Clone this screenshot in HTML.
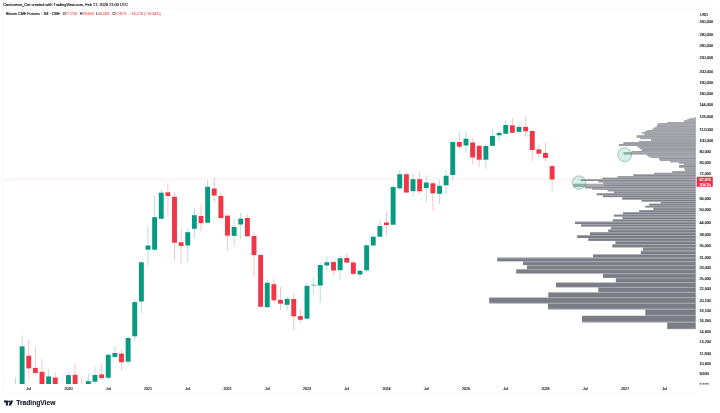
<!DOCTYPE html><html><head><meta charset="utf-8"><style>html,body{margin:0;padding:0;background:#fff;width:720px;height:413px;overflow:hidden}</style></head><body><svg width="720" height="413" viewBox="0 0 720 413" style="display:block;font-family:'Liberation Sans',sans-serif">
<rect width="720" height="413" fill="#ffffff"/>
<defs><clipPath id="cp"><rect x="0" y="8" width="696" height="376"/></clipPath></defs>
<line x1="4" x2="696" y1="179.23" y2="179.23" stroke="#f23645" stroke-opacity="0.28" stroke-width="0.42"/>
<g clip-path="url(#cp)">
<line x1="15.50" x2="15.50" y1="378.00" y2="396.00" stroke="#089981" stroke-width="0.42" stroke-opacity="0.72"/>
<rect x="13.05" y="395.00" width="4.9" height="1.00" fill="#089981"/>
<line x1="22.12" x2="22.12" y1="335.30" y2="395.00" stroke="#089981" stroke-width="0.42" stroke-opacity="0.72"/>
<rect x="19.68" y="346.40" width="4.9" height="48.60" fill="#089981"/>
<line x1="28.75" x2="28.75" y1="340.00" y2="378.30" stroke="#f23645" stroke-width="0.42" stroke-opacity="0.72"/>
<rect x="26.30" y="355.70" width="4.9" height="12.70" fill="#f23645"/>
<line x1="35.38" x2="35.38" y1="347.00" y2="374.80" stroke="#f23645" stroke-width="0.42" stroke-opacity="0.72"/>
<rect x="32.92" y="367.90" width="4.9" height="5.00" fill="#f23645"/>
<line x1="42.00" x2="42.00" y1="358.70" y2="395.00" stroke="#f23645" stroke-width="0.42" stroke-opacity="0.72"/>
<rect x="39.55" y="371.80" width="4.9" height="23.20" fill="#f23645"/>
<line x1="48.62" x2="48.62" y1="369.20" y2="395.00" stroke="#089981" stroke-width="0.42" stroke-opacity="0.72"/>
<rect x="46.17" y="376.40" width="4.9" height="18.60" fill="#089981"/>
<line x1="55.25" x2="55.25" y1="372.00" y2="395.00" stroke="#f23645" stroke-width="0.42" stroke-opacity="0.72"/>
<rect x="52.80" y="377.50" width="4.9" height="17.50" fill="#f23645"/>
<line x1="68.50" x2="68.50" y1="372.20" y2="395.00" stroke="#089981" stroke-width="0.42" stroke-opacity="0.72"/>
<rect x="66.05" y="375.10" width="4.9" height="19.90" fill="#089981"/>
<line x1="75.12" x2="75.12" y1="363.10" y2="395.00" stroke="#f23645" stroke-width="0.42" stroke-opacity="0.72"/>
<rect x="72.67" y="374.80" width="4.9" height="20.20" fill="#f23645"/>
<line x1="81.75" x2="81.75" y1="377.20" y2="396.00" stroke="#f23645" stroke-width="0.42" stroke-opacity="0.72"/>
<rect x="79.30" y="395.00" width="4.9" height="1.00" fill="#f23645"/>
<line x1="88.38" x2="88.38" y1="373.90" y2="395.00" stroke="#089981" stroke-width="0.42" stroke-opacity="0.72"/>
<rect x="85.92" y="381.10" width="4.9" height="13.90" fill="#089981"/>
<line x1="95.00" x2="95.00" y1="367.20" y2="395.00" stroke="#089981" stroke-width="0.42" stroke-opacity="0.72"/>
<rect x="92.55" y="375.00" width="4.9" height="6.70" fill="#089981"/>
<line x1="101.62" x2="101.62" y1="363.90" y2="380.20" stroke="#f23645" stroke-width="0.42" stroke-opacity="0.72"/>
<rect x="99.17" y="374.40" width="4.9" height="3.60" fill="#f23645"/>
<line x1="108.25" x2="108.25" y1="353.60" y2="379.40" stroke="#089981" stroke-width="0.42" stroke-opacity="0.72"/>
<rect x="105.80" y="354.80" width="4.9" height="23.00" fill="#089981"/>
<line x1="114.88" x2="114.88" y1="346.10" y2="357.80" stroke="#089981" stroke-width="0.42" stroke-opacity="0.72"/>
<rect x="112.42" y="353.00" width="4.9" height="3.90" fill="#089981"/>
<line x1="121.50" x2="121.50" y1="350.00" y2="370.20" stroke="#f23645" stroke-width="0.42" stroke-opacity="0.72"/>
<rect x="119.05" y="353.60" width="4.9" height="8.60" fill="#f23645"/>
<line x1="128.12" x2="128.12" y1="336.20" y2="364.70" stroke="#089981" stroke-width="0.42" stroke-opacity="0.72"/>
<rect x="125.67" y="338.00" width="4.9" height="23.70" fill="#089981"/>
<line x1="134.75" x2="134.75" y1="299.90" y2="341.00" stroke="#089981" stroke-width="0.42" stroke-opacity="0.72"/>
<rect x="132.30" y="302.10" width="4.9" height="34.20" fill="#089981"/>
<line x1="141.38" x2="141.38" y1="261.00" y2="313.20" stroke="#089981" stroke-width="0.42" stroke-opacity="0.72"/>
<rect x="138.93" y="262.30" width="4.9" height="39.20" fill="#089981"/>
<line x1="148.00" x2="148.00" y1="225.20" y2="265.20" stroke="#089981" stroke-width="0.42" stroke-opacity="0.72"/>
<rect x="145.55" y="245.50" width="4.9" height="4.20" fill="#089981"/>
<line x1="154.62" x2="154.62" y1="195.70" y2="251.30" stroke="#089981" stroke-width="0.42" stroke-opacity="0.72"/>
<rect x="152.18" y="217.20" width="4.9" height="32.50" fill="#089981"/>
<line x1="161.25" x2="161.25" y1="189.70" y2="219.20" stroke="#089981" stroke-width="0.42" stroke-opacity="0.72"/>
<rect x="158.80" y="192.70" width="4.9" height="26.10" fill="#089981"/>
<line x1="167.88" x2="167.88" y1="183.00" y2="214.70" stroke="#f23645" stroke-width="0.42" stroke-opacity="0.72"/>
<rect x="165.43" y="192.30" width="4.9" height="3.70" fill="#f23645"/>
<line x1="174.50" x2="174.50" y1="192.20" y2="259.70" stroke="#f23645" stroke-width="0.42" stroke-opacity="0.72"/>
<rect x="172.05" y="196.80" width="4.9" height="45.90" fill="#f23645"/>
<line x1="181.12" x2="181.12" y1="228.50" y2="263.50" stroke="#f23645" stroke-width="0.42" stroke-opacity="0.72"/>
<rect x="178.68" y="242.30" width="4.9" height="3.70" fill="#f23645"/>
<line x1="187.75" x2="187.75" y1="227.70" y2="262.70" stroke="#089981" stroke-width="0.42" stroke-opacity="0.72"/>
<rect x="185.30" y="232.20" width="4.9" height="13.30" fill="#089981"/>
<line x1="194.38" x2="194.38" y1="208.20" y2="238.30" stroke="#089981" stroke-width="0.42" stroke-opacity="0.72"/>
<rect x="191.93" y="215.20" width="4.9" height="13.60" fill="#089981"/>
<line x1="201.00" x2="201.00" y1="204.30" y2="231.30" stroke="#f23645" stroke-width="0.42" stroke-opacity="0.72"/>
<rect x="198.55" y="216.00" width="4.9" height="7.20" fill="#f23645"/>
<line x1="207.62" x2="207.62" y1="180.20" y2="223.30" stroke="#089981" stroke-width="0.42" stroke-opacity="0.72"/>
<rect x="205.18" y="186.80" width="4.9" height="35.90" fill="#089981"/>
<line x1="214.25" x2="214.25" y1="177.70" y2="202.30" stroke="#f23645" stroke-width="0.42" stroke-opacity="0.72"/>
<rect x="211.80" y="188.50" width="4.9" height="7.00" fill="#f23645"/>
<line x1="220.88" x2="220.88" y1="192.70" y2="219.00" stroke="#f23645" stroke-width="0.42" stroke-opacity="0.72"/>
<rect x="218.43" y="196.00" width="4.9" height="22.00" fill="#f23645"/>
<line x1="227.50" x2="227.50" y1="214.30" y2="251.00" stroke="#f23645" stroke-width="0.42" stroke-opacity="0.72"/>
<rect x="225.05" y="215.70" width="4.9" height="19.90" fill="#f23645"/>
<line x1="234.12" x2="234.12" y1="218.50" y2="246.80" stroke="#089981" stroke-width="0.42" stroke-opacity="0.72"/>
<rect x="231.68" y="227.00" width="4.9" height="8.90" fill="#089981"/>
<line x1="240.75" x2="240.75" y1="212.70" y2="239.00" stroke="#089981" stroke-width="0.42" stroke-opacity="0.72"/>
<rect x="238.30" y="218.70" width="4.9" height="5.80" fill="#089981"/>
<line x1="247.38" x2="247.38" y1="214.30" y2="236.60" stroke="#f23645" stroke-width="0.42" stroke-opacity="0.72"/>
<rect x="244.93" y="218.00" width="4.9" height="18.30" fill="#f23645"/>
<line x1="254.00" x2="254.00" y1="232.30" y2="276.70" stroke="#f23645" stroke-width="0.42" stroke-opacity="0.72"/>
<rect x="251.55" y="236.00" width="4.9" height="19.10" fill="#f23645"/>
<line x1="260.62" x2="260.62" y1="254.50" y2="307.20" stroke="#f23645" stroke-width="0.42" stroke-opacity="0.72"/>
<rect x="258.18" y="254.90" width="4.9" height="51.90" fill="#f23645"/>
<line x1="267.25" x2="267.25" y1="280.00" y2="307.40" stroke="#089981" stroke-width="0.42" stroke-opacity="0.72"/>
<rect x="264.80" y="282.80" width="4.9" height="24.40" fill="#089981"/>
<line x1="273.88" x2="273.88" y1="277.50" y2="302.90" stroke="#f23645" stroke-width="0.42" stroke-opacity="0.72"/>
<rect x="271.43" y="284.20" width="4.9" height="16.10" fill="#f23645"/>
<line x1="280.50" x2="280.50" y1="287.00" y2="310.30" stroke="#f23645" stroke-width="0.42" stroke-opacity="0.72"/>
<rect x="278.05" y="299.80" width="4.9" height="3.90" fill="#f23645"/>
<line x1="287.12" x2="287.12" y1="296.40" y2="311.30" stroke="#089981" stroke-width="0.42" stroke-opacity="0.72"/>
<rect x="284.68" y="298.90" width="4.9" height="5.90" fill="#089981"/>
<line x1="293.75" x2="293.75" y1="293.80" y2="329.80" stroke="#f23645" stroke-width="0.42" stroke-opacity="0.72"/>
<rect x="291.30" y="299.00" width="4.9" height="17.30" fill="#f23645"/>
<line x1="300.38" x2="300.38" y1="308.90" y2="322.80" stroke="#f23645" stroke-width="0.42" stroke-opacity="0.72"/>
<rect x="297.93" y="316.10" width="4.9" height="3.70" fill="#f23645"/>
<line x1="307.00" x2="307.00" y1="282.50" y2="319.00" stroke="#089981" stroke-width="0.42" stroke-opacity="0.72"/>
<rect x="304.55" y="285.80" width="4.9" height="32.90" fill="#089981"/>
<line x1="313.62" x2="313.62" y1="277.50" y2="294.00" stroke="#089981" stroke-width="0.42" stroke-opacity="0.72"/>
<rect x="311.18" y="284.80" width="4.9" height="0.60" fill="#089981"/>
<line x1="320.25" x2="320.25" y1="262.50" y2="302.60" stroke="#089981" stroke-width="0.42" stroke-opacity="0.72"/>
<rect x="317.80" y="265.00" width="4.9" height="20.50" fill="#089981"/>
<line x1="326.88" x2="326.88" y1="256.30" y2="270.00" stroke="#089981" stroke-width="0.42" stroke-opacity="0.72"/>
<rect x="324.43" y="262.20" width="4.9" height="3.30" fill="#089981"/>
<line x1="333.50" x2="333.50" y1="261.00" y2="274.70" stroke="#f23645" stroke-width="0.42" stroke-opacity="0.72"/>
<rect x="331.05" y="262.00" width="4.9" height="8.50" fill="#f23645"/>
<line x1="340.12" x2="340.12" y1="255.30" y2="279.50" stroke="#089981" stroke-width="0.42" stroke-opacity="0.72"/>
<rect x="337.68" y="258.20" width="4.9" height="12.00" fill="#089981"/>
<line x1="346.75" x2="346.75" y1="253.70" y2="263.00" stroke="#f23645" stroke-width="0.42" stroke-opacity="0.72"/>
<rect x="344.30" y="257.90" width="4.9" height="4.70" fill="#f23645"/>
<line x1="353.38" x2="353.38" y1="260.20" y2="275.20" stroke="#f23645" stroke-width="0.42" stroke-opacity="0.72"/>
<rect x="350.93" y="262.50" width="4.9" height="11.30" fill="#f23645"/>
<line x1="360.00" x2="360.00" y1="269.20" y2="278.30" stroke="#089981" stroke-width="0.42" stroke-opacity="0.72"/>
<rect x="357.55" y="270.80" width="4.9" height="3.70" fill="#089981"/>
<line x1="366.62" x2="366.62" y1="244.20" y2="272.50" stroke="#089981" stroke-width="0.42" stroke-opacity="0.72"/>
<rect x="364.18" y="245.30" width="4.9" height="25.00" fill="#089981"/>
<line x1="373.25" x2="373.25" y1="233.70" y2="246.00" stroke="#089981" stroke-width="0.42" stroke-opacity="0.72"/>
<rect x="370.80" y="236.70" width="4.9" height="8.80" fill="#089981"/>
<line x1="379.88" x2="379.88" y1="220.00" y2="237.00" stroke="#089981" stroke-width="0.42" stroke-opacity="0.72"/>
<rect x="377.43" y="226.00" width="4.9" height="10.70" fill="#089981"/>
<line x1="386.50" x2="386.50" y1="210.80" y2="235.30" stroke="#f23645" stroke-width="0.42" stroke-opacity="0.72"/>
<rect x="384.05" y="222.50" width="4.9" height="2.50" fill="#f23645"/>
<line x1="393.12" x2="393.12" y1="184.20" y2="225.50" stroke="#089981" stroke-width="0.42" stroke-opacity="0.72"/>
<rect x="390.68" y="187.00" width="4.9" height="37.70" fill="#089981"/>
<line x1="399.75" x2="399.75" y1="170.00" y2="190.30" stroke="#089981" stroke-width="0.42" stroke-opacity="0.72"/>
<rect x="397.30" y="174.20" width="4.9" height="14.10" fill="#089981"/>
<line x1="406.38" x2="406.38" y1="172.00" y2="193.00" stroke="#f23645" stroke-width="0.42" stroke-opacity="0.72"/>
<rect x="403.93" y="174.20" width="4.9" height="18.30" fill="#f23645"/>
<line x1="413.00" x2="413.00" y1="173.30" y2="196.70" stroke="#089981" stroke-width="0.42" stroke-opacity="0.72"/>
<rect x="410.55" y="179.20" width="4.9" height="12.00" fill="#089981"/>
<line x1="419.62" x2="419.62" y1="172.00" y2="194.20" stroke="#f23645" stroke-width="0.42" stroke-opacity="0.72"/>
<rect x="417.18" y="179.20" width="4.9" height="12.00" fill="#f23645"/>
<line x1="426.25" x2="426.25" y1="175.30" y2="202.50" stroke="#089981" stroke-width="0.42" stroke-opacity="0.72"/>
<rect x="423.80" y="182.50" width="4.9" height="5.50" fill="#089981"/>
<line x1="432.88" x2="432.88" y1="182.50" y2="210.80" stroke="#f23645" stroke-width="0.42" stroke-opacity="0.72"/>
<rect x="430.43" y="183.30" width="4.9" height="10.00" fill="#f23645"/>
<line x1="439.50" x2="439.50" y1="180.00" y2="204.20" stroke="#089981" stroke-width="0.42" stroke-opacity="0.72"/>
<rect x="437.05" y="185.80" width="4.9" height="8.00" fill="#089981"/>
<line x1="446.12" x2="446.12" y1="170.00" y2="194.20" stroke="#089981" stroke-width="0.42" stroke-opacity="0.72"/>
<rect x="443.68" y="175.80" width="4.9" height="9.50" fill="#089981"/>
<line x1="452.75" x2="452.75" y1="141.50" y2="179.60" stroke="#089981" stroke-width="0.42" stroke-opacity="0.72"/>
<rect x="450.30" y="142.00" width="4.9" height="33.00" fill="#089981"/>
<line x1="459.38" x2="459.38" y1="132.00" y2="149.20" stroke="#f23645" stroke-width="0.42" stroke-opacity="0.72"/>
<rect x="456.93" y="142.00" width="4.9" height="4.70" fill="#f23645"/>
<line x1="466.00" x2="466.00" y1="130.80" y2="151.70" stroke="#089981" stroke-width="0.42" stroke-opacity="0.72"/>
<rect x="463.55" y="138.70" width="4.9" height="6.80" fill="#089981"/>
<line x1="472.62" x2="472.62" y1="138.30" y2="164.20" stroke="#f23645" stroke-width="0.42" stroke-opacity="0.72"/>
<rect x="470.18" y="142.50" width="4.9" height="15.00" fill="#f23645"/>
<line x1="479.25" x2="479.25" y1="145.50" y2="166.80" stroke="#f23645" stroke-width="0.42" stroke-opacity="0.72"/>
<rect x="476.80" y="145.80" width="4.9" height="13.90" fill="#f23645"/>
<line x1="485.88" x2="485.88" y1="144.00" y2="169.40" stroke="#089981" stroke-width="0.42" stroke-opacity="0.72"/>
<rect x="483.43" y="146.00" width="4.9" height="13.70" fill="#089981"/>
<line x1="492.50" x2="492.50" y1="129.30" y2="146.50" stroke="#089981" stroke-width="0.42" stroke-opacity="0.72"/>
<rect x="490.05" y="135.90" width="4.9" height="9.90" fill="#089981"/>
<line x1="499.12" x2="499.12" y1="130.70" y2="141.10" stroke="#089981" stroke-width="0.42" stroke-opacity="0.72"/>
<rect x="496.68" y="132.90" width="4.9" height="2.40" fill="#089981"/>
<line x1="505.75" x2="505.75" y1="120.00" y2="134.00" stroke="#089981" stroke-width="0.42" stroke-opacity="0.72"/>
<rect x="503.30" y="125.00" width="4.9" height="8.70" fill="#089981"/>
<line x1="512.38" x2="512.38" y1="117.90" y2="133.00" stroke="#f23645" stroke-width="0.42" stroke-opacity="0.72"/>
<rect x="509.93" y="125.30" width="4.9" height="7.50" fill="#f23645"/>
<line x1="519.00" x2="519.00" y1="124.40" y2="133.00" stroke="#089981" stroke-width="0.42" stroke-opacity="0.72"/>
<rect x="516.55" y="126.90" width="4.9" height="5.00" fill="#089981"/>
<line x1="525.62" x2="525.62" y1="116.70" y2="137.00" stroke="#f23645" stroke-width="0.42" stroke-opacity="0.72"/>
<rect x="523.17" y="126.90" width="4.9" height="4.40" fill="#f23645"/>
<line x1="532.25" x2="532.25" y1="130.50" y2="161.30" stroke="#f23645" stroke-width="0.42" stroke-opacity="0.72"/>
<rect x="529.80" y="131.00" width="4.9" height="19.00" fill="#f23645"/>
<line x1="538.88" x2="538.88" y1="146.00" y2="157.00" stroke="#f23645" stroke-width="0.42" stroke-opacity="0.72"/>
<rect x="536.42" y="149.40" width="4.9" height="4.30" fill="#f23645"/>
<line x1="545.50" x2="545.50" y1="142.40" y2="161.20" stroke="#f23645" stroke-width="0.42" stroke-opacity="0.72"/>
<rect x="543.05" y="152.90" width="4.9" height="5.00" fill="#f23645"/>
<line x1="552.12" x2="552.12" y1="163.90" y2="191.70" stroke="#f23645" stroke-width="0.42" stroke-opacity="0.72"/>
<rect x="549.67" y="166.10" width="4.9" height="13.30" fill="#f23645"/>
</g>
<g>
<rect x="694.7" y="117.00" width="1.0" height="1.50" fill="#7b7c86"/>
<rect x="689.0" y="118.50" width="6.7" height="0.90" fill="#7b7c86"/>
<rect x="687.0" y="119.40" width="8.7" height="0.90" fill="#7b7c86"/>
<rect x="684.0" y="120.30" width="11.7" height="1.70" fill="#7b7c86"/>
<rect x="667.5" y="122.00" width="28.2" height="1.10" fill="#7b7c86"/>
<rect x="658.0" y="123.10" width="37.7" height="1.40" fill="#7b7c86"/>
<rect x="657.2" y="124.50" width="38.5" height="1.00" fill="#7b7c86"/>
<rect x="656.7" y="125.50" width="39.0" height="1.90" fill="#7b7c86"/>
<rect x="654.4" y="127.40" width="41.3" height="0.90" fill="#7b7c86"/>
<rect x="653.3" y="128.30" width="42.4" height="1.00" fill="#7b7c86"/>
<rect x="652.2" y="129.30" width="43.5" height="1.00" fill="#7b7c86"/>
<rect x="647.0" y="130.30" width="48.7" height="1.00" fill="#7b7c86"/>
<rect x="645.0" y="131.30" width="50.7" height="1.00" fill="#7b7c86"/>
<rect x="641.7" y="132.30" width="54.0" height="1.10" fill="#7b7c86"/>
<rect x="644.4" y="133.40" width="51.3" height="2.00" fill="#7b7c86"/>
<rect x="636.7" y="135.40" width="59.0" height="2.20" fill="#7b7c86"/>
<rect x="640.5" y="137.60" width="55.2" height="1.50" fill="#7b7c86"/>
<rect x="651.0" y="139.10" width="44.7" height="2.00" fill="#7b7c86"/>
<rect x="638.9" y="141.10" width="56.8" height="1.10" fill="#7b7c86"/>
<rect x="623.5" y="142.20" width="72.2" height="2.00" fill="#7b7c86"/>
<rect x="618.9" y="144.20" width="76.8" height="1.80" fill="#7b7c86"/>
<rect x="637.8" y="146.00" width="57.9" height="1.70" fill="#7b7c86"/>
<rect x="640.0" y="147.70" width="55.7" height="1.30" fill="#7b7c86"/>
<rect x="642.0" y="149.00" width="53.7" height="1.20" fill="#7b7c86"/>
<rect x="641.0" y="150.20" width="54.7" height="1.00" fill="#7b7c86"/>
<rect x="632.0" y="151.20" width="63.7" height="1.20" fill="#7b7c86"/>
<rect x="623.6" y="152.40" width="72.1" height="2.00" fill="#7b7c86"/>
<rect x="646.7" y="154.40" width="49.0" height="1.20" fill="#7b7c86"/>
<rect x="648.0" y="155.60" width="47.7" height="1.00" fill="#7b7c86"/>
<rect x="650.6" y="156.60" width="45.1" height="1.40" fill="#7b7c86"/>
<rect x="658.9" y="158.00" width="36.8" height="1.40" fill="#7b7c86"/>
<rect x="660.0" y="159.40" width="35.7" height="1.40" fill="#7b7c86"/>
<rect x="670.0" y="160.80" width="25.7" height="1.50" fill="#7b7c86"/>
<rect x="678.9" y="162.30" width="16.8" height="1.30" fill="#7b7c86"/>
<rect x="683.9" y="163.60" width="11.8" height="1.40" fill="#7b7c86"/>
<rect x="679.0" y="165.00" width="16.7" height="2.60" fill="#7b7c86"/>
<rect x="684.4" y="167.60" width="11.3" height="1.90" fill="#7b7c86"/>
<rect x="685.0" y="169.50" width="10.7" height="1.60" fill="#7b7c86"/>
<rect x="672.3" y="171.10" width="23.4" height="1.70" fill="#7b7c86"/>
<rect x="653.9" y="172.80" width="41.8" height="1.60" fill="#7b7c86"/>
<rect x="633.3" y="174.40" width="62.4" height="1.60" fill="#7b7c86"/>
<rect x="617.8" y="176.00" width="77.9" height="1.70" fill="#7b7c86"/>
<rect x="602.2" y="177.70" width="93.5" height="1.60" fill="#7b7c86"/>
<rect x="580.8" y="179.30" width="114.9" height="1.70" fill="#7b7c86"/>
<rect x="598.5" y="181.00" width="97.2" height="1.40" fill="#7b7c86"/>
<rect x="603.3" y="182.40" width="92.4" height="1.50" fill="#7b7c86"/>
<rect x="573.6" y="183.90" width="122.1" height="2.80" fill="#7b7c86"/>
<rect x="585.0" y="186.70" width="110.7" height="1.60" fill="#7b7c86"/>
<rect x="592.2" y="188.30" width="103.5" height="1.40" fill="#7b7c86"/>
<rect x="607.7" y="189.70" width="88.0" height="1.60" fill="#7b7c86"/>
<rect x="613.8" y="191.30" width="81.9" height="2.00" fill="#7b7c86"/>
<rect x="596.7" y="193.30" width="99.0" height="1.90" fill="#7b7c86"/>
<rect x="603.0" y="195.20" width="92.7" height="1.90" fill="#7b7c86"/>
<rect x="622.3" y="197.10" width="73.4" height="2.60" fill="#7b7c86"/>
<rect x="641.7" y="199.70" width="54.0" height="2.00" fill="#7b7c86"/>
<rect x="660.8" y="201.70" width="34.9" height="2.00" fill="#7b7c86"/>
<rect x="649.2" y="203.70" width="46.5" height="2.10" fill="#7b7c86"/>
<rect x="645.3" y="205.80" width="50.4" height="1.70" fill="#7b7c86"/>
<rect x="653.3" y="207.50" width="42.4" height="2.50" fill="#7b7c86"/>
<rect x="639.2" y="210.00" width="56.5" height="2.00" fill="#7b7c86"/>
<rect x="623.0" y="212.00" width="72.7" height="2.60" fill="#7b7c86"/>
<rect x="613.9" y="214.60" width="81.8" height="2.00" fill="#7b7c86"/>
<rect x="622.5" y="216.60" width="73.2" height="2.70" fill="#7b7c86"/>
<rect x="612.8" y="219.30" width="82.9" height="2.30" fill="#7b7c86"/>
<rect x="575.0" y="221.60" width="120.7" height="2.40" fill="#7b7c86"/>
<rect x="581.1" y="224.00" width="114.6" height="2.60" fill="#7b7c86"/>
<rect x="611.1" y="226.60" width="84.6" height="2.70" fill="#7b7c86"/>
<rect x="608.3" y="229.30" width="87.4" height="2.80" fill="#7b7c86"/>
<rect x="590.0" y="232.10" width="105.7" height="3.00" fill="#7b7c86"/>
<rect x="577.2" y="235.10" width="118.5" height="2.90" fill="#7b7c86"/>
<rect x="588.3" y="238.00" width="107.4" height="2.90" fill="#7b7c86"/>
<rect x="615.5" y="240.90" width="80.2" height="3.40" fill="#7b7c86"/>
<rect x="612.3" y="244.30" width="83.4" height="3.10" fill="#7b7c86"/>
<rect x="643.0" y="247.40" width="52.7" height="3.30" fill="#7b7c86"/>
<rect x="640.8" y="250.70" width="54.9" height="3.70" fill="#7b7c86"/>
<rect x="593.0" y="254.40" width="102.7" height="3.20" fill="#7b7c86"/>
<rect x="497.2" y="257.60" width="198.5" height="3.70" fill="#7b7c86"/>
<rect x="523.0" y="261.30" width="172.7" height="3.70" fill="#7b7c86"/>
<rect x="527.0" y="265.00" width="168.7" height="4.20" fill="#7b7c86"/>
<rect x="516.2" y="269.20" width="179.5" height="4.30" fill="#7b7c86"/>
<rect x="603.0" y="273.50" width="92.7" height="4.50" fill="#7b7c86"/>
<rect x="615.8" y="278.00" width="79.9" height="4.60" fill="#7b7c86"/>
<rect x="556.0" y="282.60" width="139.7" height="4.70" fill="#7b7c86"/>
<rect x="598.3" y="287.30" width="97.4" height="5.10" fill="#7b7c86"/>
<rect x="548.3" y="292.40" width="147.4" height="5.20" fill="#7b7c86"/>
<rect x="489.2" y="297.60" width="206.5" height="5.80" fill="#7b7c86"/>
<rect x="548.0" y="303.40" width="147.7" height="6.00" fill="#7b7c86"/>
<rect x="645.3" y="309.40" width="50.4" height="6.40" fill="#7b7c86"/>
<rect x="582.0" y="315.80" width="113.7" height="6.60" fill="#7b7c86"/>
<rect x="667.2" y="322.40" width="28.5" height="6.70" fill="#7b7c86"/>
</g>
<defs><clipPath id="vp">
<rect x="694.7" y="117.00" width="1.0" height="1.50"/>
<rect x="689.0" y="118.50" width="6.7" height="0.90"/>
<rect x="687.0" y="119.40" width="8.7" height="0.90"/>
<rect x="684.0" y="120.30" width="11.7" height="1.70"/>
<rect x="667.5" y="122.00" width="28.2" height="1.10"/>
<rect x="658.0" y="123.10" width="37.7" height="1.40"/>
<rect x="657.2" y="124.50" width="38.5" height="1.00"/>
<rect x="656.7" y="125.50" width="39.0" height="1.90"/>
<rect x="654.4" y="127.40" width="41.3" height="0.90"/>
<rect x="653.3" y="128.30" width="42.4" height="1.00"/>
<rect x="652.2" y="129.30" width="43.5" height="1.00"/>
<rect x="647.0" y="130.30" width="48.7" height="1.00"/>
<rect x="645.0" y="131.30" width="50.7" height="1.00"/>
<rect x="641.7" y="132.30" width="54.0" height="1.10"/>
<rect x="644.4" y="133.40" width="51.3" height="2.00"/>
<rect x="636.7" y="135.40" width="59.0" height="2.20"/>
<rect x="640.5" y="137.60" width="55.2" height="1.50"/>
<rect x="651.0" y="139.10" width="44.7" height="2.00"/>
<rect x="638.9" y="141.10" width="56.8" height="1.10"/>
<rect x="623.5" y="142.20" width="72.2" height="2.00"/>
<rect x="618.9" y="144.20" width="76.8" height="1.80"/>
<rect x="637.8" y="146.00" width="57.9" height="1.70"/>
<rect x="640.0" y="147.70" width="55.7" height="1.30"/>
<rect x="642.0" y="149.00" width="53.7" height="1.20"/>
<rect x="641.0" y="150.20" width="54.7" height="1.00"/>
<rect x="632.0" y="151.20" width="63.7" height="1.20"/>
<rect x="623.6" y="152.40" width="72.1" height="2.00"/>
<rect x="646.7" y="154.40" width="49.0" height="1.20"/>
<rect x="648.0" y="155.60" width="47.7" height="1.00"/>
<rect x="650.6" y="156.60" width="45.1" height="1.40"/>
<rect x="658.9" y="158.00" width="36.8" height="1.40"/>
<rect x="660.0" y="159.40" width="35.7" height="1.40"/>
<rect x="670.0" y="160.80" width="25.7" height="1.50"/>
<rect x="678.9" y="162.30" width="16.8" height="1.30"/>
<rect x="683.9" y="163.60" width="11.8" height="1.40"/>
<rect x="679.0" y="165.00" width="16.7" height="2.60"/>
<rect x="684.4" y="167.60" width="11.3" height="1.90"/>
<rect x="685.0" y="169.50" width="10.7" height="1.60"/>
<rect x="672.3" y="171.10" width="23.4" height="1.70"/>
<rect x="653.9" y="172.80" width="41.8" height="1.60"/>
<rect x="633.3" y="174.40" width="62.4" height="1.60"/>
<rect x="617.8" y="176.00" width="77.9" height="1.70"/>
<rect x="602.2" y="177.70" width="93.5" height="1.60"/>
<rect x="580.8" y="179.30" width="114.9" height="1.70"/>
<rect x="598.5" y="181.00" width="97.2" height="1.40"/>
<rect x="603.3" y="182.40" width="92.4" height="1.50"/>
<rect x="573.6" y="183.90" width="122.1" height="2.80"/>
<rect x="585.0" y="186.70" width="110.7" height="1.60"/>
<rect x="592.2" y="188.30" width="103.5" height="1.40"/>
<rect x="607.7" y="189.70" width="88.0" height="1.60"/>
<rect x="613.8" y="191.30" width="81.9" height="2.00"/>
<rect x="596.7" y="193.30" width="99.0" height="1.90"/>
<rect x="603.0" y="195.20" width="92.7" height="1.90"/>
<rect x="622.3" y="197.10" width="73.4" height="2.60"/>
<rect x="641.7" y="199.70" width="54.0" height="2.00"/>
<rect x="660.8" y="201.70" width="34.9" height="2.00"/>
<rect x="649.2" y="203.70" width="46.5" height="2.10"/>
<rect x="645.3" y="205.80" width="50.4" height="1.70"/>
<rect x="653.3" y="207.50" width="42.4" height="2.50"/>
<rect x="639.2" y="210.00" width="56.5" height="2.00"/>
<rect x="623.0" y="212.00" width="72.7" height="2.60"/>
<rect x="613.9" y="214.60" width="81.8" height="2.00"/>
<rect x="622.5" y="216.60" width="73.2" height="2.70"/>
<rect x="612.8" y="219.30" width="82.9" height="2.30"/>
<rect x="575.0" y="221.60" width="120.7" height="2.40"/>
<rect x="581.1" y="224.00" width="114.6" height="2.60"/>
<rect x="611.1" y="226.60" width="84.6" height="2.70"/>
<rect x="608.3" y="229.30" width="87.4" height="2.80"/>
<rect x="590.0" y="232.10" width="105.7" height="3.00"/>
<rect x="577.2" y="235.10" width="118.5" height="2.90"/>
<rect x="588.3" y="238.00" width="107.4" height="2.90"/>
<rect x="615.5" y="240.90" width="80.2" height="3.40"/>
<rect x="612.3" y="244.30" width="83.4" height="3.10"/>
<rect x="643.0" y="247.40" width="52.7" height="3.30"/>
<rect x="640.8" y="250.70" width="54.9" height="3.70"/>
<rect x="593.0" y="254.40" width="102.7" height="3.20"/>
<rect x="497.2" y="257.60" width="198.5" height="3.70"/>
<rect x="523.0" y="261.30" width="172.7" height="3.70"/>
<rect x="527.0" y="265.00" width="168.7" height="4.20"/>
<rect x="516.2" y="269.20" width="179.5" height="4.30"/>
<rect x="603.0" y="273.50" width="92.7" height="4.50"/>
<rect x="615.8" y="278.00" width="79.9" height="4.60"/>
<rect x="556.0" y="282.60" width="139.7" height="4.70"/>
<rect x="598.3" y="287.30" width="97.4" height="5.10"/>
<rect x="548.3" y="292.40" width="147.4" height="5.20"/>
<rect x="489.2" y="297.60" width="206.5" height="5.80"/>
<rect x="548.0" y="303.40" width="147.7" height="6.00"/>
<rect x="645.3" y="309.40" width="50.4" height="6.40"/>
<rect x="582.0" y="315.80" width="113.7" height="6.60"/>
<rect x="667.2" y="322.40" width="28.5" height="6.70"/>
</clipPath></defs>
<g clip-path="url(#vp)">
<line x1="480" x2="695.7" y1="329.09" y2="329.09" stroke="#b4b5bb" stroke-width="0.75"/>
<line x1="480" x2="695.7" y1="321.95" y2="321.95" stroke="#b4b5bb" stroke-width="0.75"/>
<line x1="480" x2="695.7" y1="315.29" y2="315.29" stroke="#b4b5bb" stroke-width="0.75"/>
<line x1="480" x2="695.7" y1="309.05" y2="309.05" stroke="#b4b5bb" stroke-width="0.75"/>
<line x1="480" x2="695.7" y1="303.18" y2="303.18" stroke="#b4b5bb" stroke-width="0.75"/>
<line x1="480" x2="695.7" y1="297.63" y2="297.63" stroke="#b4b5bb" stroke-width="0.75"/>
<line x1="480" x2="695.7" y1="292.38" y2="292.38" stroke="#b4b5bb" stroke-width="0.75"/>
<line x1="480" x2="695.7" y1="287.39" y2="287.39" stroke="#b4b5bb" stroke-width="0.75"/>
<line x1="480" x2="695.7" y1="282.64" y2="282.64" stroke="#b4b5bb" stroke-width="0.75"/>
<line x1="480" x2="695.7" y1="278.11" y2="278.11" stroke="#b4b5bb" stroke-width="0.75"/>
<line x1="480" x2="695.7" y1="273.77" y2="273.77" stroke="#b4b5bb" stroke-width="0.75"/>
<line x1="480" x2="695.7" y1="269.62" y2="269.62" stroke="#b4b5bb" stroke-width="0.75"/>
<line x1="480" x2="695.7" y1="265.63" y2="265.63" stroke="#b4b5bb" stroke-width="0.75"/>
<line x1="480" x2="695.7" y1="261.80" y2="261.80" stroke="#b4b5bb" stroke-width="0.75"/>
<line x1="480" x2="695.7" y1="258.11" y2="258.11" stroke="#b4b5bb" stroke-width="0.75"/>
<line x1="480" x2="695.7" y1="254.55" y2="254.55" stroke="#b4b5bb" stroke-width="0.75"/>
<line x1="480" x2="695.7" y1="251.11" y2="251.11" stroke="#b4b5bb" stroke-width="0.75"/>
<line x1="480" x2="695.7" y1="247.79" y2="247.79" stroke="#b4b5bb" stroke-width="0.75"/>
<line x1="480" x2="695.7" y1="244.58" y2="244.58" stroke="#b4b5bb" stroke-width="0.75"/>
<line x1="480" x2="695.7" y1="241.46" y2="241.46" stroke="#b4b5bb" stroke-width="0.75"/>
<line x1="480" x2="695.7" y1="238.44" y2="238.44" stroke="#b4b5bb" stroke-width="0.75"/>
<line x1="480" x2="695.7" y1="235.51" y2="235.51" stroke="#b4b5bb" stroke-width="0.75"/>
<line x1="480" x2="695.7" y1="232.67" y2="232.67" stroke="#b4b5bb" stroke-width="0.75"/>
<line x1="480" x2="695.7" y1="229.90" y2="229.90" stroke="#b4b5bb" stroke-width="0.75"/>
<line x1="480" x2="695.7" y1="227.21" y2="227.21" stroke="#b4b5bb" stroke-width="0.75"/>
<line x1="480" x2="695.7" y1="224.59" y2="224.59" stroke="#b4b5bb" stroke-width="0.75"/>
<line x1="480" x2="695.7" y1="222.04" y2="222.04" stroke="#b4b5bb" stroke-width="0.75"/>
<line x1="480" x2="695.7" y1="219.55" y2="219.55" stroke="#b4b5bb" stroke-width="0.75"/>
<line x1="480" x2="695.7" y1="217.12" y2="217.12" stroke="#b4b5bb" stroke-width="0.75"/>
<line x1="480" x2="695.7" y1="214.75" y2="214.75" stroke="#b4b5bb" stroke-width="0.75"/>
<line x1="480" x2="695.7" y1="212.43" y2="212.43" stroke="#b4b5bb" stroke-width="0.75"/>
<line x1="480" x2="695.7" y1="210.17" y2="210.17" stroke="#b4b5bb" stroke-width="0.75"/>
<line x1="480" x2="695.7" y1="207.96" y2="207.96" stroke="#b4b5bb" stroke-width="0.75"/>
<line x1="480" x2="695.7" y1="205.79" y2="205.79" stroke="#b4b5bb" stroke-width="0.75"/>
<line x1="480" x2="695.7" y1="203.67" y2="203.67" stroke="#b4b5bb" stroke-width="0.75"/>
<line x1="480" x2="695.7" y1="201.60" y2="201.60" stroke="#b4b5bb" stroke-width="0.75"/>
<line x1="480" x2="695.7" y1="199.57" y2="199.57" stroke="#b4b5bb" stroke-width="0.75"/>
<line x1="480" x2="695.7" y1="197.58" y2="197.58" stroke="#b4b5bb" stroke-width="0.75"/>
<line x1="480" x2="695.7" y1="195.63" y2="195.63" stroke="#b4b5bb" stroke-width="0.75"/>
<line x1="480" x2="695.7" y1="193.71" y2="193.71" stroke="#b4b5bb" stroke-width="0.75"/>
<line x1="480" x2="695.7" y1="191.83" y2="191.83" stroke="#b4b5bb" stroke-width="0.75"/>
<line x1="480" x2="695.7" y1="189.99" y2="189.99" stroke="#b4b5bb" stroke-width="0.75"/>
<line x1="480" x2="695.7" y1="188.18" y2="188.18" stroke="#b4b5bb" stroke-width="0.75"/>
<line x1="480" x2="695.7" y1="186.40" y2="186.40" stroke="#b4b5bb" stroke-width="0.75"/>
<line x1="480" x2="695.7" y1="184.66" y2="184.66" stroke="#b4b5bb" stroke-width="0.75"/>
<line x1="480" x2="695.7" y1="182.94" y2="182.94" stroke="#b4b5bb" stroke-width="0.75"/>
<line x1="480" x2="695.7" y1="181.25" y2="181.25" stroke="#b4b5bb" stroke-width="0.75"/>
<line x1="480" x2="695.7" y1="179.60" y2="179.60" stroke="#b4b5bb" stroke-width="0.75"/>
<line x1="480" x2="695.7" y1="177.96" y2="177.96" stroke="#b4b5bb" stroke-width="0.75"/>
<line x1="480" x2="695.7" y1="176.36" y2="176.36" stroke="#b4b5bb" stroke-width="0.75"/>
<line x1="480" x2="695.7" y1="174.78" y2="174.78" stroke="#b4b5bb" stroke-width="0.75"/>
<line x1="480" x2="695.7" y1="173.22" y2="173.22" stroke="#b4b5bb" stroke-width="0.75"/>
<line x1="480" x2="695.7" y1="171.69" y2="171.69" stroke="#b4b5bb" stroke-width="0.75"/>
<line x1="480" x2="695.7" y1="170.19" y2="170.19" stroke="#b4b5bb" stroke-width="0.75"/>
<line x1="480" x2="695.7" y1="168.70" y2="168.70" stroke="#b4b5bb" stroke-width="0.75"/>
<line x1="480" x2="695.7" y1="167.24" y2="167.24" stroke="#b4b5bb" stroke-width="0.75"/>
<line x1="480" x2="695.7" y1="165.80" y2="165.80" stroke="#b4b5bb" stroke-width="0.75"/>
<line x1="480" x2="695.7" y1="164.37" y2="164.37" stroke="#b4b5bb" stroke-width="0.75"/>
<line x1="480" x2="695.7" y1="162.97" y2="162.97" stroke="#b4b5bb" stroke-width="0.75"/>
<line x1="480" x2="695.7" y1="161.59" y2="161.59" stroke="#b4b5bb" stroke-width="0.75"/>
<line x1="480" x2="695.7" y1="160.23" y2="160.23" stroke="#b4b5bb" stroke-width="0.75"/>
<line x1="480" x2="695.7" y1="158.88" y2="158.88" stroke="#b4b5bb" stroke-width="0.75"/>
<line x1="480" x2="695.7" y1="157.56" y2="157.56" stroke="#b4b5bb" stroke-width="0.75"/>
<line x1="480" x2="695.7" y1="156.25" y2="156.25" stroke="#b4b5bb" stroke-width="0.75"/>
<line x1="480" x2="695.7" y1="154.96" y2="154.96" stroke="#b4b5bb" stroke-width="0.75"/>
<line x1="480" x2="695.7" y1="153.68" y2="153.68" stroke="#b4b5bb" stroke-width="0.75"/>
<line x1="480" x2="695.7" y1="152.42" y2="152.42" stroke="#b4b5bb" stroke-width="0.75"/>
<line x1="480" x2="695.7" y1="151.18" y2="151.18" stroke="#b4b5bb" stroke-width="0.75"/>
<line x1="480" x2="695.7" y1="149.95" y2="149.95" stroke="#b4b5bb" stroke-width="0.75"/>
<line x1="480" x2="695.7" y1="148.74" y2="148.74" stroke="#b4b5bb" stroke-width="0.75"/>
<line x1="480" x2="695.7" y1="147.54" y2="147.54" stroke="#b4b5bb" stroke-width="0.75"/>
<line x1="480" x2="695.7" y1="146.35" y2="146.35" stroke="#b4b5bb" stroke-width="0.75"/>
<line x1="480" x2="695.7" y1="145.18" y2="145.18" stroke="#b4b5bb" stroke-width="0.75"/>
<line x1="480" x2="695.7" y1="144.03" y2="144.03" stroke="#b4b5bb" stroke-width="0.75"/>
<line x1="480" x2="695.7" y1="142.88" y2="142.88" stroke="#b4b5bb" stroke-width="0.75"/>
<line x1="480" x2="695.7" y1="141.75" y2="141.75" stroke="#b4b5bb" stroke-width="0.75"/>
<line x1="480" x2="695.7" y1="140.63" y2="140.63" stroke="#b4b5bb" stroke-width="0.75"/>
<line x1="480" x2="695.7" y1="139.53" y2="139.53" stroke="#b4b5bb" stroke-width="0.75"/>
<line x1="480" x2="695.7" y1="138.44" y2="138.44" stroke="#b4b5bb" stroke-width="0.75"/>
<line x1="480" x2="695.7" y1="137.35" y2="137.35" stroke="#b4b5bb" stroke-width="0.75"/>
<line x1="480" x2="695.7" y1="136.28" y2="136.28" stroke="#b4b5bb" stroke-width="0.75"/>
<line x1="480" x2="695.7" y1="135.23" y2="135.23" stroke="#b4b5bb" stroke-width="0.75"/>
<line x1="480" x2="695.7" y1="134.18" y2="134.18" stroke="#b4b5bb" stroke-width="0.75"/>
<line x1="480" x2="695.7" y1="133.14" y2="133.14" stroke="#b4b5bb" stroke-width="0.75"/>
<line x1="480" x2="695.7" y1="132.12" y2="132.12" stroke="#b4b5bb" stroke-width="0.75"/>
<line x1="480" x2="695.7" y1="131.10" y2="131.10" stroke="#b4b5bb" stroke-width="0.75"/>
<line x1="480" x2="695.7" y1="130.10" y2="130.10" stroke="#b4b5bb" stroke-width="0.75"/>
<line x1="480" x2="695.7" y1="129.10" y2="129.10" stroke="#b4b5bb" stroke-width="0.75"/>
<line x1="480" x2="695.7" y1="128.12" y2="128.12" stroke="#b4b5bb" stroke-width="0.75"/>
<line x1="480" x2="695.7" y1="127.14" y2="127.14" stroke="#b4b5bb" stroke-width="0.75"/>
<line x1="480" x2="695.7" y1="126.18" y2="126.18" stroke="#b4b5bb" stroke-width="0.75"/>
<line x1="480" x2="695.7" y1="125.22" y2="125.22" stroke="#b4b5bb" stroke-width="0.75"/>
<line x1="480" x2="695.7" y1="124.27" y2="124.27" stroke="#b4b5bb" stroke-width="0.75"/>
<line x1="480" x2="695.7" y1="123.34" y2="123.34" stroke="#b4b5bb" stroke-width="0.75"/>
<line x1="480" x2="695.7" y1="122.41" y2="122.41" stroke="#b4b5bb" stroke-width="0.75"/>
<line x1="480" x2="695.7" y1="121.48" y2="121.48" stroke="#b4b5bb" stroke-width="0.75"/>
<line x1="480" x2="695.7" y1="120.57" y2="120.57" stroke="#b4b5bb" stroke-width="0.75"/>
<line x1="480" x2="695.7" y1="119.67" y2="119.67" stroke="#b4b5bb" stroke-width="0.75"/>
<line x1="480" x2="695.7" y1="118.77" y2="118.77" stroke="#b4b5bb" stroke-width="0.75"/>
<line x1="480" x2="695.7" y1="117.88" y2="117.88" stroke="#b4b5bb" stroke-width="0.75"/>
<line x1="480" x2="695.7" y1="117.00" y2="117.00" stroke="#b4b5bb" stroke-width="0.75"/>
</g>
<rect x="573.6" y="183.9" width="30.5" height="2.8" fill="#a9aab1"/>
<circle cx="624.7" cy="154.7" r="7.0" fill="#35c28f" fill-opacity="0.22" stroke="#5a8576" stroke-opacity="0.9" stroke-width="0.5"/>
<circle cx="578.9" cy="182.6" r="6.75" fill="#35c28f" fill-opacity="0.22" stroke="#5a8576" stroke-opacity="0.9" stroke-width="0.5"/>
<path d="M2.7 393.2V8.2H716.5" fill="none" stroke="#eef0f3" stroke-width="0.5"/>
<path d="M2.7 393.2H696" fill="none" stroke="#eef0f3" stroke-width="0.5"/>
<g opacity="0.999">
<text x="699.40" y="23.49" font-size="4.2" fill="#131722" stroke="#131722" stroke-width="0.16" textLength="13.59" lengthAdjust="spacingAndGlyphs">330,000</text>
<text x="699.40" y="36.33" font-size="4.2" fill="#131722" stroke="#131722" stroke-width="0.16" textLength="13.59" lengthAdjust="spacingAndGlyphs">290,000</text>
<text x="699.40" y="47.19" font-size="4.2" fill="#131722" stroke="#131722" stroke-width="0.16" textLength="13.59" lengthAdjust="spacingAndGlyphs">260,000</text>
<text x="699.40" y="59.37" font-size="4.2" fill="#131722" stroke="#131722" stroke-width="0.16" textLength="13.59" lengthAdjust="spacingAndGlyphs">230,000</text>
<text x="699.40" y="73.27" font-size="4.2" fill="#131722" stroke="#131722" stroke-width="0.16" textLength="13.59" lengthAdjust="spacingAndGlyphs">200,000</text>
<text x="699.40" y="83.74" font-size="4.2" fill="#131722" stroke="#131722" stroke-width="0.16" textLength="13.59" lengthAdjust="spacingAndGlyphs">180,000</text>
<text x="699.40" y="95.45" font-size="4.2" fill="#131722" stroke="#131722" stroke-width="0.16" textLength="13.59" lengthAdjust="spacingAndGlyphs">160,000</text>
<text x="699.40" y="105.92" font-size="4.2" fill="#131722" stroke="#131722" stroke-width="0.16" textLength="13.59" lengthAdjust="spacingAndGlyphs">144,000</text>
<text x="699.40" y="117.63" font-size="4.2" fill="#131722" stroke="#131722" stroke-width="0.16" textLength="13.59" lengthAdjust="spacingAndGlyphs">128,000</text>
<text x="699.40" y="130.90" font-size="4.2" fill="#131722" stroke="#131722" stroke-width="0.16" textLength="13.59" lengthAdjust="spacingAndGlyphs">112,000</text>
<text x="699.40" y="142.17" font-size="4.2" fill="#131722" stroke="#131722" stroke-width="0.16" textLength="13.59" lengthAdjust="spacingAndGlyphs">100,000</text>
<text x="699.40" y="152.64" font-size="4.2" fill="#131722" stroke="#131722" stroke-width="0.16" textLength="11.56" lengthAdjust="spacingAndGlyphs">90,000</text>
<text x="699.40" y="164.35" font-size="4.2" fill="#131722" stroke="#131722" stroke-width="0.16" textLength="11.56" lengthAdjust="spacingAndGlyphs">80,000</text>
<text x="699.40" y="174.82" font-size="4.2" fill="#131722" stroke="#131722" stroke-width="0.16" textLength="11.56" lengthAdjust="spacingAndGlyphs">72,000</text>
<text x="699.40" y="199.80" font-size="4.2" fill="#131722" stroke="#131722" stroke-width="0.16" textLength="11.56" lengthAdjust="spacingAndGlyphs">56,000</text>
<text x="699.40" y="211.06" font-size="4.2" fill="#131722" stroke="#131722" stroke-width="0.16" textLength="11.56" lengthAdjust="spacingAndGlyphs">50,000</text>
<text x="699.40" y="223.77" font-size="4.2" fill="#131722" stroke="#131722" stroke-width="0.16" textLength="11.56" lengthAdjust="spacingAndGlyphs">44,000</text>
<text x="699.40" y="235.76" font-size="4.2" fill="#131722" stroke="#131722" stroke-width="0.16" textLength="11.56" lengthAdjust="spacingAndGlyphs">39,000</text>
<text x="699.40" y="246.52" font-size="4.2" fill="#131722" stroke="#131722" stroke-width="0.16" textLength="11.56" lengthAdjust="spacingAndGlyphs">35,000</text>
<text x="699.40" y="258.58" font-size="4.2" fill="#131722" stroke="#131722" stroke-width="0.16" textLength="11.56" lengthAdjust="spacingAndGlyphs">31,000</text>
<text x="699.40" y="268.70" font-size="4.2" fill="#131722" stroke="#131722" stroke-width="0.16" textLength="11.56" lengthAdjust="spacingAndGlyphs">28,000</text>
<text x="699.40" y="279.96" font-size="4.2" fill="#131722" stroke="#131722" stroke-width="0.16" textLength="11.56" lengthAdjust="spacingAndGlyphs">25,000</text>
<text x="699.40" y="290.44" font-size="4.2" fill="#131722" stroke="#131722" stroke-width="0.16" textLength="11.56" lengthAdjust="spacingAndGlyphs">22,500</text>
<text x="699.40" y="301.65" font-size="4.2" fill="#131722" stroke="#131722" stroke-width="0.16" textLength="11.56" lengthAdjust="spacingAndGlyphs">20,100</text>
<text x="699.40" y="312.07" font-size="4.2" fill="#131722" stroke="#131722" stroke-width="0.16" textLength="11.56" lengthAdjust="spacingAndGlyphs">18,100</text>
<text x="699.40" y="322.17" font-size="4.2" fill="#131722" stroke="#131722" stroke-width="0.16" textLength="11.56" lengthAdjust="spacingAndGlyphs">16,350</text>
<text x="699.40" y="333.43" font-size="4.2" fill="#131722" stroke="#131722" stroke-width="0.16" textLength="11.56" lengthAdjust="spacingAndGlyphs">14,600</text>
<text x="699.40" y="343.45" font-size="4.2" fill="#131722" stroke="#131722" stroke-width="0.16" textLength="11.56" lengthAdjust="spacingAndGlyphs">13,200</text>
<text x="699.40" y="354.59" font-size="4.2" fill="#131722" stroke="#131722" stroke-width="0.16" textLength="11.56" lengthAdjust="spacingAndGlyphs">11,800</text>
<text x="699.40" y="365.25" font-size="4.2" fill="#131722" stroke="#131722" stroke-width="0.16" textLength="11.56" lengthAdjust="spacingAndGlyphs">10,600</text>
<text x="699.40" y="375.10" font-size="4.2" fill="#131722" stroke="#131722" stroke-width="0.16" textLength="9.53" lengthAdjust="spacingAndGlyphs">9,600</text>
<text x="700.00" y="15.95" font-size="4.2" fill="#131722" stroke="#131722" stroke-width="0.16" textLength="7.90" lengthAdjust="spacingAndGlyphs">USD</text>
<defs><clipPath id="ax"><rect x="690" y="0" width="30" height="384.4"/></clipPath></defs><g clip-path="url(#ax)">
<text x="699.40" y="386.03" font-size="4.2" fill="#131722" stroke="#131722" stroke-width="0.16" textLength="9.53" lengthAdjust="spacingAndGlyphs">8,600</text>
</g>
<rect x="696.7" y="176.7" width="16.1" height="10.0" rx="0.4" fill="#e9314a"/>
<text x="699.40" y="181.20" font-size="4.2" fill="#ffffff" stroke="#ffffff" stroke-width="0.16" textLength="11.56" lengthAdjust="spacingAndGlyphs">67,875</text>
<text x="699.40" y="185.70" font-size="4.2" fill="#ffffff" stroke="#ffffff" stroke-width="0.16" textLength="11.20" lengthAdjust="spacingAndGlyphs">10d 2h</text>
<text x="26.30" y="390.00" font-size="4.2" fill="#131722" stroke="#131722" stroke-width="0.16" textLength="4.90" lengthAdjust="spacingAndGlyphs">Jul</text>
<text x="64.45" y="390.00" font-size="4.2" fill="#131722" stroke="#131722" stroke-width="0.16" textLength="8.10" lengthAdjust="spacingAndGlyphs">2020</text>
<text x="105.80" y="390.00" font-size="4.2" fill="#131722" stroke="#131722" stroke-width="0.16" textLength="4.90" lengthAdjust="spacingAndGlyphs">Jul</text>
<text x="143.95" y="390.00" font-size="4.2" fill="#131722" stroke="#131722" stroke-width="0.16" textLength="8.10" lengthAdjust="spacingAndGlyphs">2021</text>
<text x="185.30" y="390.00" font-size="4.2" fill="#131722" stroke="#131722" stroke-width="0.16" textLength="4.90" lengthAdjust="spacingAndGlyphs">Jul</text>
<text x="223.45" y="390.00" font-size="4.2" fill="#131722" stroke="#131722" stroke-width="0.16" textLength="8.10" lengthAdjust="spacingAndGlyphs">2022</text>
<text x="264.80" y="390.00" font-size="4.2" fill="#131722" stroke="#131722" stroke-width="0.16" textLength="4.90" lengthAdjust="spacingAndGlyphs">Jul</text>
<text x="302.95" y="390.00" font-size="4.2" fill="#131722" stroke="#131722" stroke-width="0.16" textLength="8.10" lengthAdjust="spacingAndGlyphs">2023</text>
<text x="344.30" y="390.00" font-size="4.2" fill="#131722" stroke="#131722" stroke-width="0.16" textLength="4.90" lengthAdjust="spacingAndGlyphs">Jul</text>
<text x="382.45" y="390.00" font-size="4.2" fill="#131722" stroke="#131722" stroke-width="0.16" textLength="8.10" lengthAdjust="spacingAndGlyphs">2024</text>
<text x="423.80" y="390.00" font-size="4.2" fill="#131722" stroke="#131722" stroke-width="0.16" textLength="4.90" lengthAdjust="spacingAndGlyphs">Jul</text>
<text x="461.95" y="390.00" font-size="4.2" fill="#131722" stroke="#131722" stroke-width="0.16" textLength="8.10" lengthAdjust="spacingAndGlyphs">2025</text>
<text x="503.30" y="390.00" font-size="4.2" fill="#131722" stroke="#131722" stroke-width="0.16" textLength="4.90" lengthAdjust="spacingAndGlyphs">Jul</text>
<text x="541.45" y="390.00" font-size="4.2" fill="#131722" stroke="#131722" stroke-width="0.16" textLength="8.10" lengthAdjust="spacingAndGlyphs">2026</text>
<text x="582.80" y="390.00" font-size="4.2" fill="#131722" stroke="#131722" stroke-width="0.16" textLength="4.90" lengthAdjust="spacingAndGlyphs">Jul</text>
<text x="620.95" y="390.00" font-size="4.2" fill="#131722" stroke="#131722" stroke-width="0.16" textLength="8.10" lengthAdjust="spacingAndGlyphs">2027</text>
<text x="662.30" y="390.00" font-size="4.2" fill="#131722" stroke="#131722" stroke-width="0.16" textLength="4.90" lengthAdjust="spacingAndGlyphs">Jul</text>
<text x="3.30" y="6.10" font-size="4.2" fill="#131722" stroke="#131722" stroke-width="0.16" textLength="124.70" lengthAdjust="spacingAndGlyphs">Cantonese_Cat created with TradingView.com, Feb 17, 2026 21:03 UTC</text>
<text x="5.80" y="15.00" font-size="4.2" fill="#131722" stroke="#131722" stroke-width="0.16" textLength="54.20" lengthAdjust="spacingAndGlyphs">Bitcoin CME Futures · 1M · CME</text>
<text x="63.00" y="15.00" font-size="4.2" fill="#131722" stroke="#131722" stroke-width="0.16" textLength="2.60" lengthAdjust="spacingAndGlyphs">O</text>
<text x="65.60" y="15.00" font-size="4.2" fill="#f23645" stroke="#f23645" stroke-width="0.04" textLength="11.40" lengthAdjust="spacingAndGlyphs">77,730</text>
<text x="80.00" y="15.00" font-size="4.2" fill="#131722" stroke="#131722" stroke-width="0.16" textLength="2.40" lengthAdjust="spacingAndGlyphs">H</text>
<text x="82.40" y="15.00" font-size="4.2" fill="#f23645" stroke="#f23645" stroke-width="0.04" textLength="11.30" lengthAdjust="spacingAndGlyphs">79,660</text>
<text x="96.30" y="15.00" font-size="4.2" fill="#131722" stroke="#131722" stroke-width="0.16" textLength="2.00" lengthAdjust="spacingAndGlyphs">L</text>
<text x="98.30" y="15.00" font-size="4.2" fill="#f23645" stroke="#f23645" stroke-width="0.04" textLength="11.40" lengthAdjust="spacingAndGlyphs">60,005</text>
<text x="112.50" y="15.00" font-size="4.2" fill="#131722" stroke="#131722" stroke-width="0.16" textLength="2.30" lengthAdjust="spacingAndGlyphs">C</text>
<text x="114.80" y="15.00" font-size="4.2" fill="#f23645" stroke="#f23645" stroke-width="0.04" textLength="11.50" lengthAdjust="spacingAndGlyphs">67,875</text>
<text x="129.70" y="15.00" font-size="4.2" fill="#f23645" stroke="#f23645" stroke-width="0.04" textLength="31.10" lengthAdjust="spacingAndGlyphs">−16,270 (−19.34%)</text>
<g fill="#131722" transform="translate(4,400.5) scale(0.948,0.9)"><path d="M0 0h4.1v5.6H2V2.1H0z"/><circle cx="5.4" cy="1.05" r="1.05"/><path d="M7.1 0h2.6L7.3 5.6H4.8z"/></g>
<text x="16.20" y="405.30" font-size="7.2" fill="#131722" stroke="#131722" stroke-width="0.1" textLength="39.20" lengthAdjust="spacingAndGlyphs" font-weight="bold">TradingView</text>
</g>
</svg></body></html>
